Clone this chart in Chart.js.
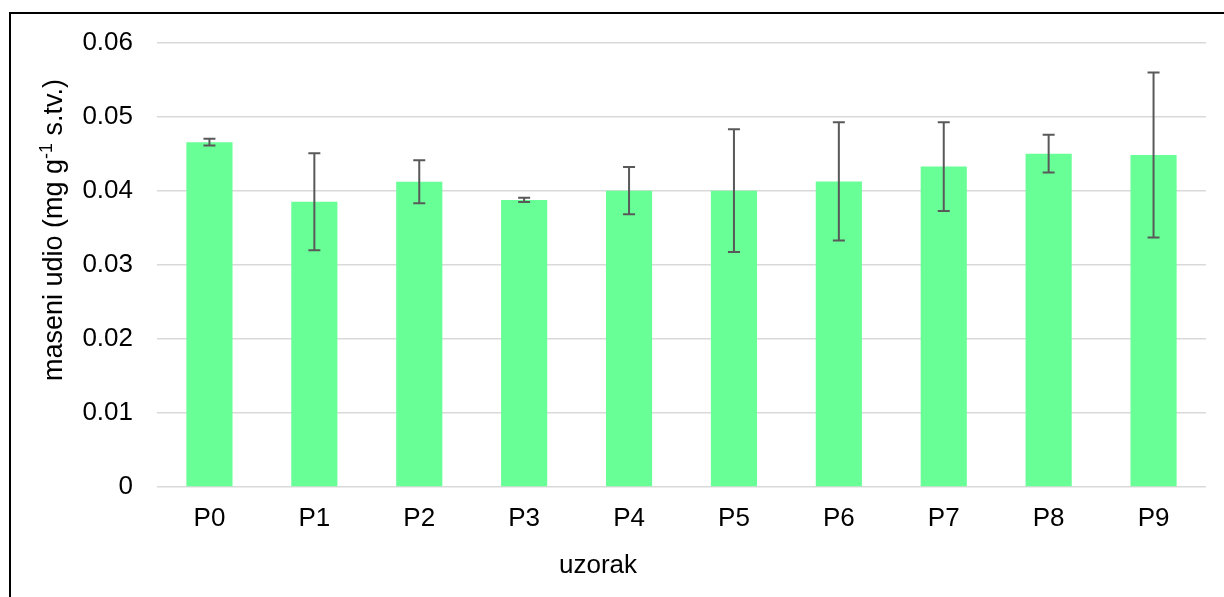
<!DOCTYPE html>
<html>
<head>
<meta charset="utf-8">
<script src="https://cdn.jsdelivr.net/npm/chart.js@4.4.1/dist/chart.umd.min.js"></script>
<style>
  html, body { margin: 0; padding: 0; background: #fff; overflow: hidden; }
  #wrap { position: relative; width: 1224px; height: 597px; }
  #frame { position: absolute; left: 9px; top: 12px; width: 1400px; height: 800px; border: 2px solid #000; box-sizing: border-box; }
  canvas { position: absolute; left: 0; top: 0; }
</style>
</head>
<body>
<div id="wrap">
  <div id="frame"></div>
  <canvas id="chart" width="1224" height="597"></canvas>
</div>
<script>
// Chart data
const categories = ['P0', 'P1', 'P2', 'P3', 'P4', 'P5', 'P6', 'P7', 'P8', 'P9'];
const values = [0.0466, 0.03855, 0.04125, 0.0388, 0.04005, 0.04005, 0.0413, 0.0433, 0.04505, 0.04485];
const errors = [0.00045, 0.00655, 0.0029, 0.0003, 0.0032, 0.0083, 0.0080, 0.0060, 0.00255, 0.01115];
const yTickLabels = ['0', '0.01', '0.02', '0.03', '0.04', '0.05', '0.06'];

const FONT = '"Liberation Sans", Arial, sans-serif';

// Error bars drawn through the y scale
const errorBarPlugin = {
    id: 'errorBars',
    afterDatasetsDraw(chart) {
        const ctx = chart.ctx;
        const meta = chart.getDatasetMeta(0);
        const y = chart.scales.y;
        ctx.save();
        ctx.strokeStyle = '#595959';
        ctx.lineWidth = 2;
        meta.data.forEach((bar, i) => {
            const top = y.getPixelForValue(values[i] + errors[i]);
            const bottom = y.getPixelForValue(values[i] - errors[i]);
            const x = bar.x;
            ctx.beginPath();
            ctx.moveTo(x, top);
            ctx.lineTo(x, bottom);
            ctx.moveTo(x - 6, top);
            ctx.lineTo(x + 6, top);
            ctx.moveTo(x - 6, bottom);
            ctx.lineTo(x + 6, bottom);
            ctx.stroke();
        });
        ctx.restore();
    }
};

// Axis titles (y title has a superscript)
const axisTitlePlugin = {
    id: 'axisTitles',
    afterDraw(chart) {
        const ctx = chart.ctx;
        ctx.save();
        ctx.fillStyle = '#000';
        ctx.font = '26px ' + FONT;
        ctx.textAlign = 'center';
        ctx.textBaseline = 'alphabetic';
        ctx.fillText('uzorak', 598, 573);

        // rotated y title
        const parts = [
            { text: 'maseni udio (mg g', size: 27, rise: 0 },
            { text: '-1', size: 18, rise: 10 },
            { text: ' s.tv.)', size: 27, rise: 0 }
        ];
        let total = 0;
        parts.forEach(p => {
            ctx.font = p.size + 'px ' + FONT;
            p.w = ctx.measureText(p.text).width;
            total += p.w;
        });
        ctx.translate(62, 230);
        ctx.rotate(-Math.PI / 2);
        ctx.textAlign = 'left';
        let x = -total / 2;
        parts.forEach(p => {
            ctx.font = p.size + 'px ' + FONT;
            ctx.fillText(p.text, x, -p.rise);
            x += p.w;
        });
        ctx.restore();
    }
};

function initializeChart() {
    const ctx = document.getElementById('chart');

    new Chart(ctx, {
        type: 'bar',
        data: {
            labels: categories,
            datasets: [{
                data: values,
                backgroundColor: '#69FF97',
                borderWidth: 0,
                barPercentage: 0.44,
                categoryPercentage: 1.0
            }]
        },
        options: {
            responsive: false,
            animation: false,
            layout: {
                padding: { left: 0, right: 18, top: 43, bottom: 0 }
            },
            scales: {
                x: {
                    grid: { display: false },
                    border: { display: false },
                    ticks: {
                        color: '#000',
                        font: { family: FONT, size: 26 },
                        padding: 8
                    },
                    afterFit(scale) { scale.height = 110; }
                },
                y: {
                    min: 0,
                    max: 0.06,
                    ticks: {
                        stepSize: 0.01,
                        color: '#000',
                        font: { family: FONT, size: 26 },
                        padding: 24,
                        callback: (v, i) => yTickLabels[i]
                    },
                    grid: {
                        color: '#d9d9d9',
                        lineWidth: 1.5,
                        drawTicks: false
                    },
                    border: { display: false },
                    afterFit(scale) { scale.width = 157; }
                }
            },
            plugins: {
                legend: { display: false },
                tooltip: { enabled: false }
            }
        },
        plugins: [errorBarPlugin, axisTitlePlugin]
    });
}

document.addEventListener('DOMContentLoaded', initializeChart);
</script>
</body>
</html>
